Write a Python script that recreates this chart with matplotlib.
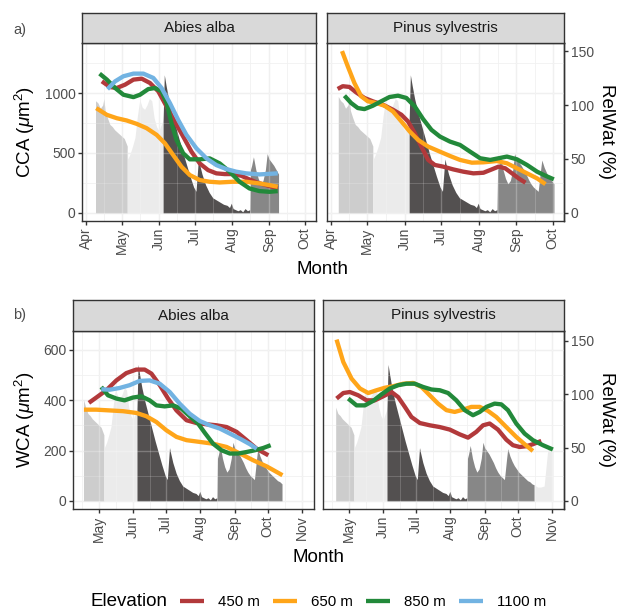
import numpy as np
import matplotlib.pyplot as plt
from matplotlib.lines import Line2D

plt.rcParams['font.family'] = ['Liberation Sans', 'DejaVu Sans']
plt.rcParams['mathtext.fontset'] = 'custom'
plt.rcParams['mathtext.rm'] = 'Liberation Sans'
plt.rcParams['mathtext.it'] = 'Liberation Sans:italic'

# month starts as day of year
month_doy = [60, 91, 121, 152, 182, 213, 244, 274, 305, 335]
month_lab = ['Mar', 'Apr', 'May', 'Jun', 'Jul', 'Aug', 'Sep', 'Oct', 'Nov', 'Dec']

elevations = ['450 m', '650 m', '850 m', '1100 m']
colors = ['#B2393B', '#FFA519', '#22893A', '#72B3E2']

# relative water content (%) and phase colours
relwat_doy = [97, 99, 101, 103, 105, 106, 107, 109, 111, 113, 115, 117, 119, 121, 123, 125.5,
              125.5, 126, 128, 130, 132, 134, 136, 138, 140, 142, 144, 146, 148, 150, 152, 154, 155.5,
              155.5, 156.5, 158, 160, 163, 166, 169, 172, 175, 178, 181, 183, 184, 185, 186, 188,
              191, 194, 197, 200, 203, 206, 209, 211, 212.5, 214, 216, 218, 220, 222, 224, 226, 228,
              228, 228.5, 229.5, 231, 233, 235, 237, 239, 241, 242.5, 244, 246, 248, 250, 252, 254,
              256, 258, 260, 262, 264, 265, 267, 269, 271, 273, 275, 277, 279, 281, 283, 285, 287, 289,
              289, 292, 295, 298, 300, 301.5, 303, 306]
relwat = [108, 104, 102, 97, 100, 106, 95, 88, 82, 80, 77, 75, 73, 71, 69, 62,
          62, 50, 55, 62, 70, 90, 105, 98, 96, 100, 106, 104, 88, 80, 76, 82, 86,
          86, 128, 118, 106, 92, 80, 68, 56, 45, 34, 24, 20, 35, 50, 45, 36,
          26, 19, 14, 12, 10, 8, 7, 5, 9, 4, 3, 2, 3, 1, 4, 2, 3,
          3, 40, 44, 52, 40, 32, 27, 30, 40, 55, 50, 47, 44, 40, 36, 31,
          27, 24, 22, 20, 40, 49, 42, 37, 33, 30, 27, 25, 23, 21, 19, 18, 16, 15,
          15, 13, 13, 14, 35, 50, 51, 51]
phase_breaks = [125.5, 155.5, 228, 289]
phase_colors = ['#CDCDCD', '#EBEBEB', '#535050', '#878787', '#EBEBEB']

# CCA (um2), Abies alba
aa_cca_450_doy = [104.3, 111.2, 116.8, 123.7, 130.7, 137.6, 144.5, 151.5, 158.4, 165.3, 172.3, 179.2,
                  186.1, 193.1, 200, 206.9, 213.9, 220.8, 227.7, 234.6, 241.6, 251.3]
aa_cca_450 = [1098, 1050, 1042, 1070, 1112, 1120, 1084, 1014, 888, 762, 637, 511,
              413, 357, 330, 324, 324, 310, 279, 251, 232, 204]
aa_cca_650_doy = [99.6, 108.5, 116.8, 125.1, 133.4, 141.7, 150.1, 157, 163.9, 170.9, 177.8, 186.1,
                  194.4, 202.8, 213.9, 224.9, 236, 244.4, 251.3]
aa_cca_650 = [874, 818, 790, 771, 743, 707, 651, 581, 483, 385, 316, 274,
              260, 254, 260, 260, 246, 232, 218]
aa_cca_850_doy = [102.4, 108.5, 115.4, 122.3, 130.7, 136.2, 143.1, 148.7, 154.2, 158.4, 162.5, 166.7,
                  172.3, 177.8, 186.1, 194.4, 202.8, 211.1, 219.4, 227.7, 236, 244.4, 251.3]
aa_cca_850 = [1162, 1112, 1042, 986, 966, 986, 1033, 1042, 1014, 916, 749, 609,
              497, 447, 447, 455, 413, 344, 260, 204, 182, 176, 182]
aa_cca_1100_doy = [109, 115.4, 122.3, 130.7, 139, 147.3, 154.2, 161.2, 168.1, 175, 183.3, 191.7,
                   200, 208.3, 216.6, 224.9, 236, 251.3]
aa_cca_1100 = [1033, 1098, 1140, 1162, 1162, 1126, 1042, 916, 776, 651, 539, 455,
               399, 366, 344, 330, 321, 330]

# CCA (um2), Pinus sylvestris
ps_cca_450_doy = [96.5, 100.7, 106.2, 111.7, 118.6, 125.5, 133.8, 142.1, 149.1, 154.6, 160.1, 165.6,
                  171.2, 176.7, 183.6, 191.9, 200.2, 208.5, 216.8, 223.7, 229.3, 234.8, 240.4, 245.9, 251.5]
ps_cca_450 = [1034, 1057, 1051, 1006, 959, 931, 903, 861, 819, 763, 665, 553,
              442, 400, 386, 363, 344, 330, 335, 363, 386, 372, 330, 288, 252]
ps_cca_650_doy = [100.1, 104.8, 110.3, 115.9, 121.4, 128.3, 135.2, 142.1, 149.1, 156, 162.9, 171.2,
                  180.9, 189.2, 197.5, 207.2, 216.8, 227.9, 236.2, 244.5, 252.8, 261.1, 268]
ps_cca_650 = [1350, 1224, 1084, 973, 931, 917, 894, 847, 763, 679, 609, 553,
              511, 475, 442, 419, 422, 433, 414, 372, 330, 288, 240]
ps_cca_850_doy = [102.1, 107.6, 113.1, 118.6, 125.5, 132.4, 139.3, 146.3, 153.2, 160.1, 167, 173.9,
                  180.9, 189.2, 197.5, 205.8, 214.1, 222.4, 229.3, 236.2, 244.5, 252.8, 261.1, 268, 274.9]
ps_cca_850 = [978, 917, 875, 866, 894, 931, 967, 978, 959, 889, 783, 693,
              637, 595, 567, 511, 456, 442, 456, 470, 447, 400, 344, 310, 280]

# WCA (um2), Abies alba
aa_wca_450_doy = [111.9, 118.6, 127.7, 136.8, 145.8, 154.9, 162.5, 168.6, 176.2, 183.7, 191.3, 200.4,
                  209.5, 218.6, 227.7, 236.8, 245.8, 254.9, 264, 274.6]
aa_wca_450 = [389, 410, 439, 478, 507, 521, 521, 505, 459, 406, 359, 320,
              309, 304, 300, 293, 274, 241, 207, 181]
aa_wca_650_doy = [107.4, 118.6, 130.7, 142.8, 154.9, 164, 173.1, 182.2, 191.3, 200.4, 212.5, 224.5,
                  236.8, 248.9, 261, 273.1, 287.4]
aa_wca_650 = [362, 362, 359, 356, 349, 336, 313, 280, 254, 241, 234, 227,
              214, 188, 161, 137, 102]
aa_wca_850_doy = [123.1, 129.2, 136.8, 144.2, 151.8, 159.4, 167, 173.1, 180.6, 188.2, 195.8, 203.3,
                  210.9, 217, 224.5, 232.1, 239.7, 247.3, 254.8, 262.4, 270, 276.7]
aa_wca_850 = [452, 419, 406, 399, 410, 415, 399, 379, 375, 379, 366, 336,
              307, 270, 227, 201, 188, 188, 194, 201, 210, 221]
aa_wca_1100_doy = [123.1, 130.7, 139.7, 148.8, 157.9, 167, 176.1, 185.2, 194.2, 203.3, 212.4, 221.5,
                   230.6, 239.7, 248.8, 257.9, 264]
aa_wca_1100 = [443, 441, 448, 459, 476, 478, 465, 432, 386, 346, 317, 300,
               287, 267, 247, 225, 207]

# WCA (um2), Pinus sylvestris
ps_wca_450_doy = [109.8, 115.9, 121.9, 129.4, 137, 144.5, 152.1, 159.6, 165.6, 171.7, 177.7, 185.3,
                  194.3, 203.4, 212.4, 221.5, 229, 236.5, 242.6, 248.6, 256.1, 263.7, 269.7, 275.8,
                  281.8, 287.8, 295.4]
ps_wca_450 = [406, 428, 432, 419, 399, 399, 415, 432, 412, 373, 333, 309,
              300, 293, 283, 264, 251, 274, 300, 307, 283, 243, 221, 214,
              217, 225, 238]
ps_wca_650_doy = [109.8, 115.9, 123.4, 131, 138.5, 146, 153.6, 161.1, 170.2, 179.2, 186.8, 194.3,
                  201.8, 209.4, 216.9, 224.5, 232, 239.6, 247.1, 254.6, 263.7, 272.7, 280.3, 287.8]
ps_wca_650 = [640, 551, 485, 446, 428, 439, 449, 455, 465, 468, 452, 419,
              386, 360, 353, 362, 373, 373, 357, 333, 293, 254, 225, 198]
ps_wca_850_doy = [120.4, 127.9, 135.5, 143, 150.6, 158.1, 165.6, 173.2, 180.7, 188.3, 195.8, 203.4,
                  210.9, 218.4, 226, 233.5, 239.6, 245.6, 253.1, 259.2, 265.2, 272.7, 280.3, 287.8,
                  296.9, 305.9]
ps_wca_850 = [406, 379, 379, 397, 423, 446, 459, 465, 465, 452, 442, 439,
              428, 399, 360, 340, 353, 373, 386, 383, 360, 307, 267, 241,
              221, 204]

relwat_ticks = [0, 50, 100, 150]

W, H = 619, 612
fig = plt.figure(figsize=(W / 100, H / 100), dpi=100)
BORDER = '#333333'
TICK_SIZE = 10


def rect(x0, x1, y0, y1):
    return [x0 / W, 1 - y1 / H, (x1 - x0) / W, (y1 - y0) / H]


def panel(box, strip_box, title, lines, scale, span, xlim, ylim, yticks, right):
    ax = fig.add_axes(rect(*box))
    d = np.array(relwat_doy)
    v = np.array(relwat) * scale
    edges = [-np.inf] + phase_breaks + [np.inf]
    for k, col in enumerate(phase_colors):
        lo, hi = max(edges[k], span[0]), min(edges[k + 1], span[1])
        m = (d >= lo) & (d <= hi)
        if m.sum() > 1:
            ax.fill_between(d[m], 0, v[m], color=col, lw=0, zorder=1)

    for (xd, yv), c in zip(lines, colors):
        ax.plot(xd, yv, color=c, lw=3.1, solid_capstyle='butt', solid_joinstyle='round', zorder=3)

    ax.set_xlim(xlim)
    ax.set_ylim(ylim)
    majors = [m for m in month_doy if xlim[0] <= m <= xlim[1]]
    minors = [(a + b) / 2 for a, b in zip(month_doy[:-1], month_doy[1:])]
    minors = [m for m in minors if xlim[0] <= m <= xlim[1]]
    ax.set_xticks(majors)
    ax.set_xticklabels([month_lab[month_doy.index(m)] for m in majors], rotation=90)
    ax.set_xticks(minors, minor=True)
    ax.set_yticks(yticks)
    step = yticks[1] - yticks[0]
    ymin = [t + step / 2 for t in yticks if t + step / 2 < ylim[1]]
    ax.set_yticks(ymin, minor=True)
    ax.set_axisbelow(True)
    ax.grid(which='major', color='#EBEBEB', lw=1.0)
    ax.grid(which='minor', color='#EBEBEB', lw=0.5)
    # faint grid showing through the shaded areas
    for x in majors:
        ax.axvline(x, color='white', alpha=0.25, lw=1.0, zorder=1.5)
    for x in minors:
        ax.axvline(x, color='white', alpha=0.25, lw=0.5, zorder=1.5)
    for y in yticks:
        ax.axhline(y, color='white', alpha=0.25, lw=1.0, zorder=1.5)
    for y in ymin:
        ax.axhline(y, color='white', alpha=0.25, lw=0.5, zorder=1.5)

    ax.tick_params(which='major', length=2.75, width=1.0, color=BORDER,
                   labelcolor='#4D4D4D', labelsize=TICK_SIZE, pad=2)
    ax.tick_params(which='minor', length=0)
    for s in ax.spines.values():
        s.set_color(BORDER)
        s.set_linewidth(1.0)
    if right:
        ax.tick_params(axis='y', left=False, labelleft=False)
        sec = ax.secondary_yaxis('right', functions=(lambda y: y / scale, lambda r: r * scale))
        sec.set_yticks(relwat_ticks)
        sec.tick_params(length=2.75, width=1.0, color=BORDER, labelcolor='#4D4D4D',
                        labelsize=TICK_SIZE, pad=2)
        sec.spines['right'].set_color(BORDER)
        sec.spines['right'].set_linewidth(1.0)

    sax = fig.add_axes(rect(*strip_box))
    sax.set_facecolor('#D9D9D9')
    sax.set_xticks([])
    sax.set_yticks([])
    for s in sax.spines.values():
        s.set_color(BORDER)
        s.set_linewidth(1.0)
    sax.text(0.5, 0.5, title, ha='center', va='center', fontsize=11, color='#1A1A1A',
             transform=sax.transAxes)
    return ax


top_x = (87.7, 283.3)
top_y = (-67.5, 1417.5)
bot_x = (97.5, 316)
bot_y = (-32, 674)

panel((82, 316, 43, 221), (82, 316, 13, 43), 'Abies alba',
      [(aa_cca_450_doy, aa_cca_450), (aa_cca_650_doy, aa_cca_650),
       (aa_cca_850_doy, aa_cca_850), (aa_cca_1100_doy, aa_cca_1100)],
      9, (99, 252), top_x, top_y, [0, 500, 1000], False)
panel((327, 564, 43, 221), (327, 564, 13, 43), 'Pinus sylvestris',
      [(ps_cca_450_doy, ps_cca_450), (ps_cca_650_doy, ps_cca_650),
       (ps_cca_850_doy, ps_cca_850)],
      9, (97, 275), top_x, top_y, [0, 500, 1000], True)
panel((73, 314, 331, 509), (73, 314, 300, 331), 'Abies alba',
      [(aa_wca_450_doy, aa_wca_450), (aa_wca_650_doy, aa_wca_650),
       (aa_wca_850_doy, aa_wca_850), (aa_wca_1100_doy, aa_wca_1100)],
      4.23, (107, 287), bot_x, bot_y, [0, 200, 400, 600], False)
panel((323, 564, 331, 509), (323, 564, 300, 331), 'Pinus sylvestris',
      [(ps_wca_450_doy, ps_wca_450), (ps_wca_650_doy, ps_wca_650),
       (ps_wca_850_doy, ps_wca_850)],
      4.23, (109, 306), bot_x, bot_y, [0, 200, 400, 600], True)


def ftext(x, y, s, **kw):
    fig.text(x / W, 1 - y / H, s, **kw)


ftext(13, 30, 'a)', ha='left', va='center', fontsize=10.5, color='#4D4D4D')
ftext(13, 315, 'b)', ha='left', va='center', fontsize=10.5, color='#4D4D4D')
ftext(25, 132, r'CCA ($\mathit{\mu}$m$^2$)', rotation=90, ha='center', va='center', fontsize=13.5)
ftext(25, 420, r'WCA ($\mathit{\mu}$m$^2$)', rotation=90, ha='center', va='center', fontsize=13.5)
ftext(606, 132, 'RelWat (%)', rotation=270, ha='center', va='center', fontsize=13.5)
ftext(606, 420, 'RelWat (%)', rotation=270, ha='center', va='center', fontsize=13.5)
ftext(323, 270, 'Month', ha='center', va='center', fontsize=13.5)
ftext(318, 558, 'Month', ha='center', va='center', fontsize=13.5)
ftext(91, 601, 'Elevation', ha='left', va='center', fontsize=13.5)

handles = [Line2D([], [], color=c, lw=3.1, solid_capstyle='butt') for c in colors]
fig.legend(handles, elevations, loc='center left', bbox_to_anchor=(180 / W, 1 - 602 / H),
           ncol=4, frameon=False, fontsize=10.8, handlelength=1.6, handletextpad=0.95,
           columnspacing=0.85, borderpad=0, borderaxespad=0)

fig.savefig('out.png', dpi=100)
